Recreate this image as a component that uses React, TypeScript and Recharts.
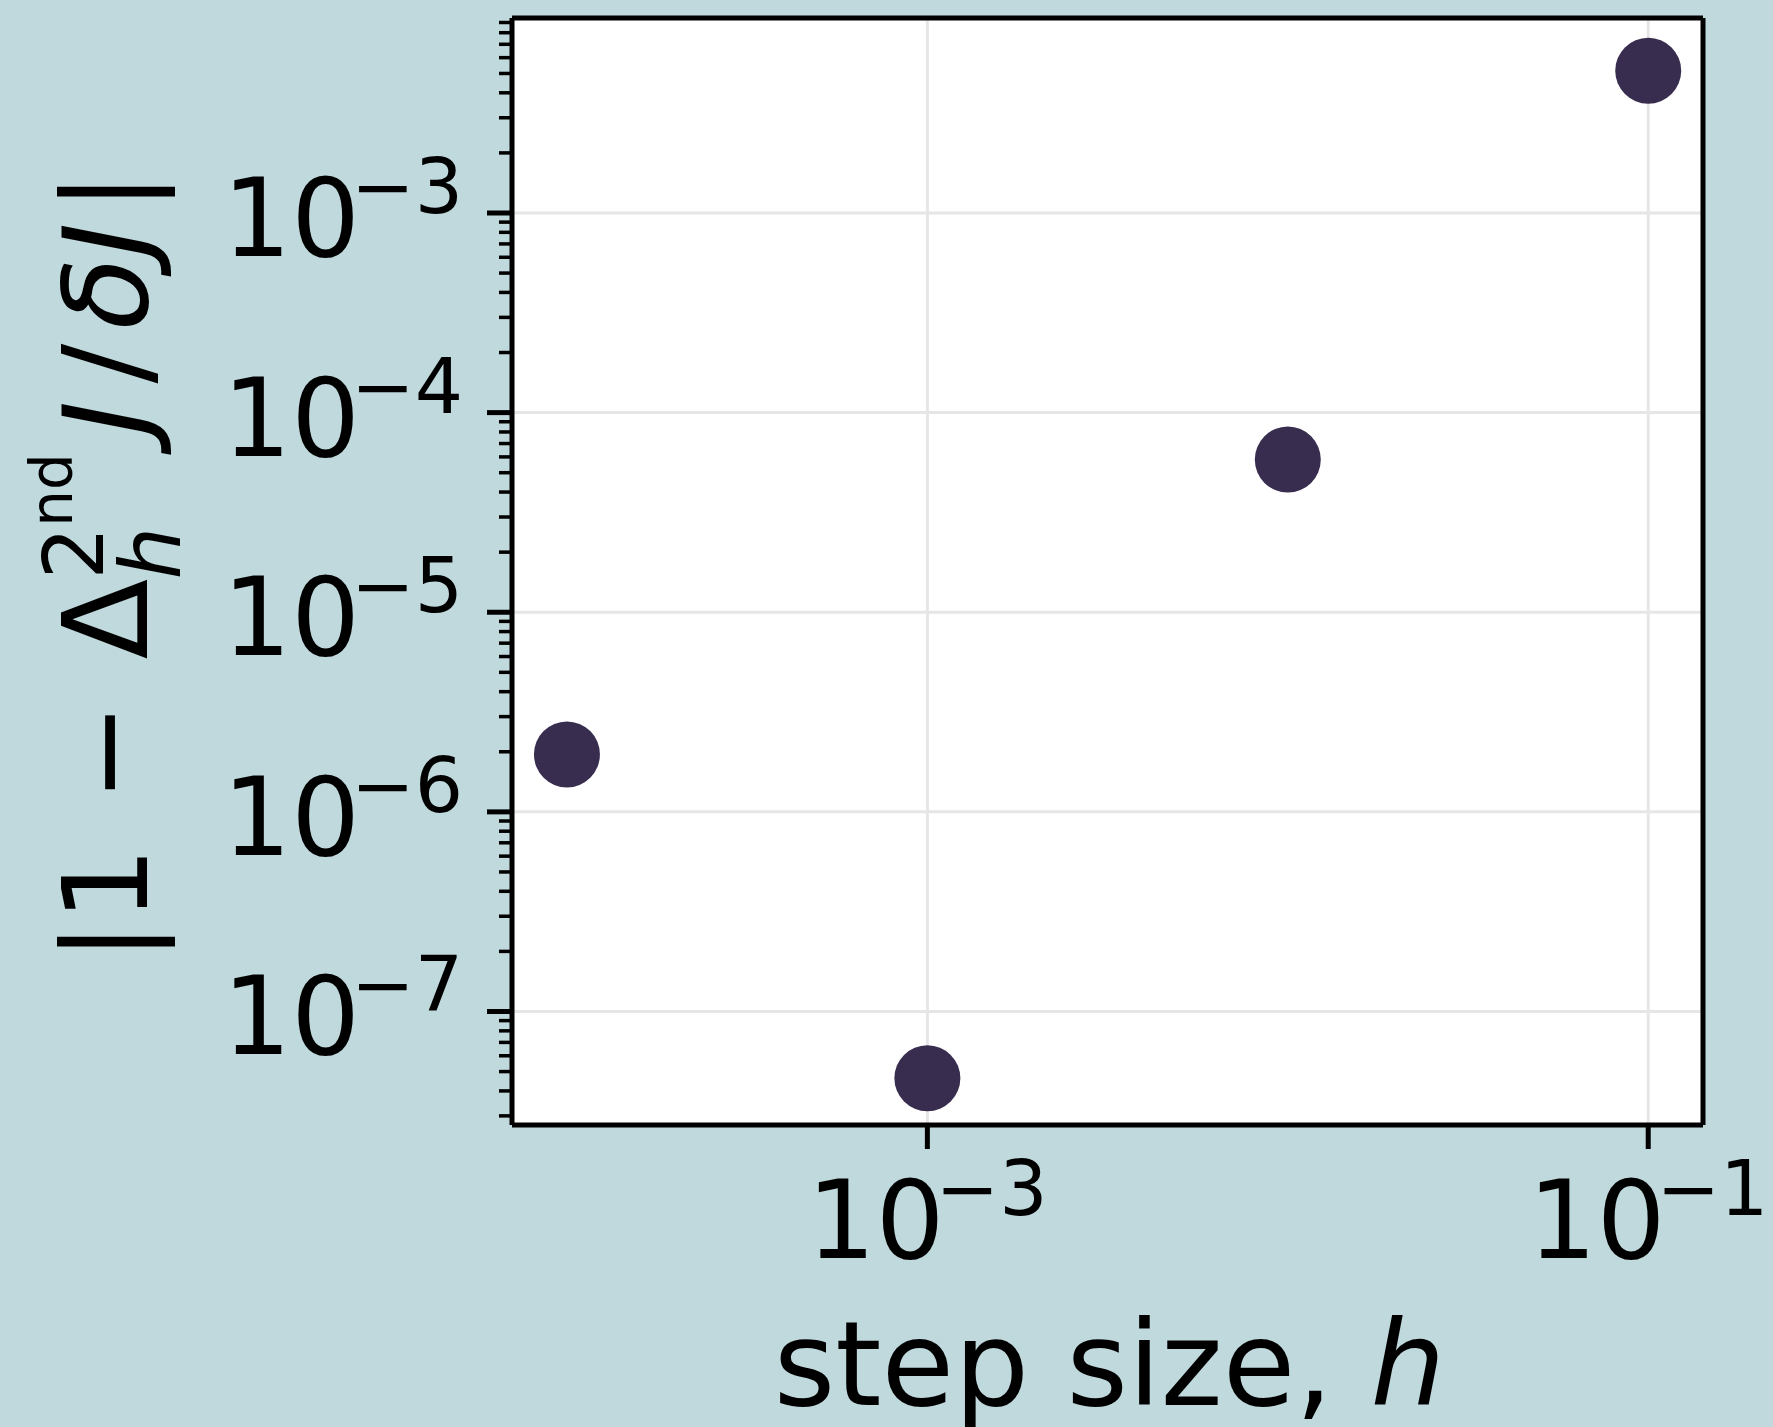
import React from 'react';
import { ScatterChart, Scatter, XAxis, YAxis, CartesianGrid, ReferenceLine } from 'recharts';

const FONT = '"DejaVu Sans", "Liberation Sans", sans-serif';
const MARKER_COLOR = '#382d4e';
const PAGE_COLOR = '#c0d9dd';
const GRID_COLOR = '#e6e6e6';

// step size h and the relative error of the 2nd-order finite difference
const stepSizes = [1e-4, 1e-3, 1e-2, 1e-1];
const relErrors = [1.94e-6, 4.63e-8, 5.82e-5, 5.16e-3];

// axis ticks and limits
const xTicks = [1e-3, 1e-1];
const yTicks = [1e-7, 1e-6, 1e-5, 1e-4, 1e-3];
const yDecades = [-8, -7, -6, -5, -4, -3];
const minorMultipliers = [2, 3, 4, 5, 6, 7, 8, 9];
const xDomain: [number, number] = [7.04e-5, 0.1419];
const yDomain: [number, number] = [2.7e-8, 9.48e-3];

const yMinorTicks = yDecades
  .flatMap((p) => minorMultipliers.map((m) => m * Math.pow(10, p)))
  .filter((v) => v >= yDomain[0] && v <= yDomain[1]);

const data = stepSizes.map((h, i) => ({ h, err: relErrors[i] }));

const exponentOf = (v: number) => Math.round(Math.log10(v));
const expText = (n: number) => (n < 0 ? `\u2212${-n}` : `${n}`);

// 10^n tick label, superscript drawn smaller, raised and tucked in
const YPowerTick = (props: any) => {
  const { x, y, payload } = props;
  return (
    <text x={x} y={y + 43} textAnchor="end" fontFamily={FONT} fontSize={108} fill="#000">
      <tspan>10</tspan>
      <tspan fontSize={76} dx={-9} dy={-43}>{expText(exponentOf(payload.value))}</tspan>
    </text>
  );
};

const XPowerTick = (props: any) => {
  const { x, y, payload } = props;
  return (
    <text x={x} y={y + 99} textAnchor="middle" fontFamily={FONT} fontSize={108} fill="#000">
      <tspan>10</tspan>
      <tspan fontSize={76} dx={-9} dy={-43}>{expText(exponentOf(payload.value))}</tspan>
    </text>
  );
};

// minor ticks carry no label
const NoLabel = () => null;

// |1 − Δ_h^{2nd} J / δJ| drawn rotated along the y axis
const YLabel = (props: any) => {
  const vb = props.viewBox || { x: 0, y: 18, width: 511, height: 1107 };
  const ox = vb.x + 147;
  const oy = vb.y + vb.height / 2 + 390;
  return (
    <g transform={`translate(${ox},${oy}) rotate(-90)`}>
      <text fontFamily={FONT} fontSize={118} fill="#000">
        <tspan x={0} y={0}>|1</tspan>
        <tspan x={160} y={0}>{'\u2212'}</tspan>
        <tspan x={302} y={0}>{'\u0394'}</tspan>
        <tspan x={382} y={-44} fontSize={83}>2</tspan>
        <tspan y={-75} fontSize={58}>nd</tspan>
        <tspan x={382} y={33} fontSize={83} fontStyle="italic">h</tspan>
        <tspan x={526} y={0} fontStyle="italic">J</tspan>
        <tspan x={578} y={0}>/</tspan>
        <tspan x={632} y={0} fontStyle="italic">{'\u03b4J'}</tspan>
        <tspan x={750} y={0}>|</tspan>
      </text>
    </g>
  );
};

const XLabel = (props: any) => {
  const vb = props.viewBox || { x: 512, y: 1125, width: 1191, height: 302 };
  return (
    <text
      x={vb.x + vb.width / 2 + 2}
      y={vb.y + 280}
      textAnchor="middle"
      fontFamily={FONT}
      fontSize={118}
      fill="#000"
    >
      step size, <tspan fontStyle="italic">h</tspan>
    </text>
  );
};

const Dot = (props: any) => <circle cx={props.cx} cy={props.cy} r={33} fill={MARKER_COLOR} />;

const frameLine = { stroke: '#000', strokeWidth: 5 };

export default function App() {
  return (
    <div
      style={{
        position: 'absolute',
        left: 0,
        top: 0,
        width: 1773,
        height: 1427,
        background: PAGE_COLOR,
      }}
    >
      <ScatterChart width={1773} height={1427} margin={{ top: 17, right: 69, bottom: 0, left: 0 }}>
        {/* vertical grid from the x axis; horizontal grid lines are reference lines on the major y axis */}
        <CartesianGrid stroke={GRID_COLOR} strokeWidth={3} fill="#fff" fillOpacity={1} horizontal={false} />
        {/* minor y ticks; id 0 keeps this 1px axis right against the plot edge, and it draws the left spine */}
        <YAxis
          dataKey="err"
          type="number"
          scale="log"
          domain={yDomain}
          allowDataOverflow
          ticks={yMinorTicks}
          interval={0}
          width={1}
          tick={<NoLabel />}
          tickSize={13}
          stroke="#000"
          strokeWidth={3.5}
          tickLine={{ stroke: '#000', strokeWidth: 3.5 }}
          axisLine={frameLine}
        />
        <YAxis
          yAxisId="main"
          dataKey="err"
          type="number"
          scale="log"
          domain={yDomain}
          allowDataOverflow
          ticks={yTicks}
          interval={0}
          width={511}
          tickSize={24}
          tickMargin={24}
          tick={<YPowerTick />}
          stroke="#000"
          strokeWidth={5}
          tickLine={{ stroke: '#000', strokeWidth: 5 }}
          axisLine={false}
          label={YLabel}
        />
        <YAxis
          yAxisId="right"
          orientation="right"
          dataKey="err"
          type="number"
          scale="log"
          domain={yDomain}
          allowDataOverflow
          width={1}
          tick={false}
          tickLine={false}
          stroke="#000"
          strokeWidth={5}
          axisLine={frameLine}
        />
        <XAxis
          dataKey="h"
          type="number"
          scale="log"
          domain={xDomain}
          allowDataOverflow
          ticks={xTicks}
          interval={0}
          height={302}
          tickSize={24}
          tickMargin={10}
          tick={<XPowerTick />}
          stroke="#000"
          strokeWidth={5}
          tickLine={{ stroke: '#000', strokeWidth: 5 }}
          axisLine={frameLine}
          label={XLabel}
        />
        <XAxis
          xAxisId="top"
          orientation="top"
          dataKey="h"
          type="number"
          scale="log"
          domain={xDomain}
          allowDataOverflow
          height={1}
          tick={false}
          tickLine={false}
          stroke="#000"
          strokeWidth={5}
          axisLine={frameLine}
        />
        {yTicks.map((v) => (
          <ReferenceLine key={v} yAxisId="main" y={v} stroke={GRID_COLOR} strokeWidth={3} />
        ))}
        <Scatter data={data} dataKey="err" yAxisId="main" shape={Dot} isAnimationActive={false} />
      </ScatterChart>
    </div>
  );
}
